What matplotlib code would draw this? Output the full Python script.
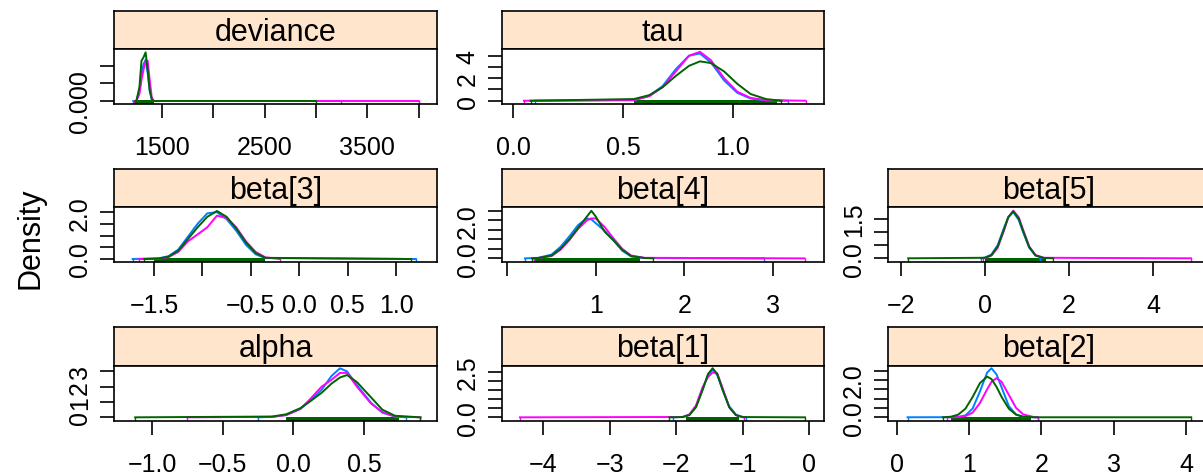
import numpy as np
import matplotlib
matplotlib.use('Agg')
import matplotlib.pyplot as plt

plt.rcParams['font.family'] = ['Liberation Sans', 'DejaVu Sans']

# chain colours (lattice superpose.line): chain 1, 2, 3
chain_colors = ['#0080ff', '#ff00ff', '#006400']
strip_color = '#ffe5cc'

# ---- density curves (peak region, shared x per panel) ----
dev_x = [1250, 1280, 1300, 1320, 1340, 1360, 1380, 1400, 1420]
dev_blue = [0, 0.003, 0.008, 0.0105, 0.0118, 0.008, 0.003, 0.0005, 0]
dev_pink = [0, 0.002, 0.006, 0.009, 0.0112, 0.0115, 0.006, 0.001, 0]
dev_green = [0, 0.004, 0.0115, 0.0125, 0.0139, 0.009, 0.003, 0.0005, 0]
dev_lo = [1220, 1230, 1240]
dev_hi = [3240, 4000, 3000]
dev_rug = [1240, 1420]

tau_x = [0.55, 0.62, 0.68, 0.74, 0.80, 0.85, 0.90, 0.96, 1.02, 1.08, 1.15]
tau_blue = [0.05, 0.45, 1.3, 2.8, 4.0, 4.2, 3.4, 1.8, 0.7, 0.2, 0.04]
tau_pink = [0.06, 0.4, 1.2, 2.6, 4.0, 4.35, 3.6, 2.0, 0.8, 0.25, 0.05]
tau_green = [0.15, 0.5, 1.2, 2.2, 3.1, 3.5, 3.35, 2.6, 1.5, 0.6, 0.15]
tau_lo = [0.10, 0.05, 0.08]
tau_hi = [1.25, 1.33, 1.22]
tau_rug = [0.55, 1.2]

b3_x = [-1.45, -1.35, -1.25, -1.15, -1.05, -0.95, -0.85, -0.75, -0.65, -0.55, -0.45, -0.35]
b3_blue = [0.03, 0.12, 0.4, 0.95, 1.5, 1.95, 2.0, 1.7, 1.2, 0.6, 0.2, 0.04]
b3_pink = [0.01, 0.08, 0.3, 0.75, 1.05, 1.35, 1.85, 1.75, 1.35, 0.75, 0.3, 0.07]
b3_green = [0.02, 0.1, 0.35, 0.85, 1.35, 1.8, 2.05, 1.8, 1.3, 0.7, 0.25, 0.05]
b3_lo = [-1.72, -1.65, -1.6]
b3_hi = [1.2, -0.2, 1.15]
b3_rug = [-1.5, -0.35]

b4_x = [0.35, 0.5, 0.6, 0.7, 0.8, 0.9, 0.95, 1.0, 1.1, 1.2, 1.3, 1.4, 1.55]
b4_blue = [0.03, 0.2, 0.6, 1.15, 1.75, 2.1, 2.05, 1.85, 1.45, 0.95, 0.4, 0.1, 0.02]
b4_pink = [0.02, 0.12, 0.45, 0.95, 1.55, 2.0, 2.1, 2.1, 1.65, 1.05, 0.5, 0.15, 0.03]
b4_green = [0.02, 0.15, 0.5, 1.0, 1.6, 2.2, 2.5, 2.2, 1.4, 0.95, 0.45, 0.12, 0.02]
b4_lo = [0.2, 0.3, 0.28]
b4_hi = [2.9, 3.36, 1.65]
b4_rug = [0.3, 1.5]

b5_x = [0.0, 0.15, 0.3, 0.45, 0.55, 0.67, 0.8, 0.9, 1.05, 1.2, 1.4]
b5_blue = [0.03, 0.14, 0.5, 1.15, 1.55, 1.75, 1.45, 1.0, 0.4, 0.1, 0.01]
b5_pink = [0.01, 0.1, 0.4, 1.05, 1.55, 1.8, 1.55, 1.1, 0.45, 0.12, 0.02]
b5_green = [0.02, 0.12, 0.45, 1.1, 1.55, 1.78, 1.5, 1.05, 0.42, 0.11, 0.01]
b5_lo = [-0.1, -0.05, -1.83]
b5_hi = [1.3, 4.9, 1.62]
b5_rug = [0.0, 1.45]

alpha_x = [-0.15, -0.05, 0.05, 0.12, 0.2, 0.27, 0.33, 0.38, 0.45, 0.55, 0.63, 0.72]
alpha_blue = [0.03, 0.15, 0.55, 1.1, 1.8, 2.7, 3.2, 3.0, 2.1, 0.95, 0.3, 0.05]
alpha_pink = [0.03, 0.15, 0.55, 1.2, 2.0, 2.45, 2.9, 2.9, 2.0, 0.9, 0.35, 0.05]
alpha_green = [0.05, 0.2, 0.6, 1.05, 1.6, 2.2, 2.6, 2.76, 2.3, 1.3, 0.5, 0.1]
alpha_lo = [-0.25, -0.75, -1.12]
alpha_hi = [0.8, 0.9, 0.9]
alpha_rug = [-0.05, 0.75]

b1_x = [-1.9, -1.8, -1.7, -1.6, -1.52, -1.45, -1.38, -1.3, -1.2, -1.1, -1.0]
b1_blue = [0.02, 0.15, 0.6, 1.55, 2.3, 2.6, 2.3, 1.5, 0.6, 0.15, 0.02]
b1_pink = [0.02, 0.15, 0.65, 1.65, 2.2, 2.45, 2.4, 1.6, 0.55, 0.12, 0.01]
b1_green = [0.015, 0.12, 0.55, 1.5, 2.36, 2.68, 2.36, 1.5, 0.55, 0.12, 0.015]
b1_lo = [-2.05, -4.35, -2.1]
b1_hi = [-0.95, -0.98, -0.06]
b1_rug = [-1.85, -1.05]

b2_x = [0.75, 0.85, 0.95, 1.05, 1.15, 1.25, 1.31, 1.38, 1.45, 1.55, 1.65, 1.75, 1.9]
b2_blue = [0.005, 0.02, 0.1, 0.47, 1.38, 2.4, 2.63, 2.3, 1.6, 0.6, 0.15, 0.02, 0.0]
b2_pink = [0.0, 0.01, 0.06, 0.25, 0.76, 1.5, 1.9, 2.1, 1.9, 1.2, 0.5, 0.15, 0.01]
b2_green = [0.03, 0.14, 0.46, 1.09, 1.83, 2.18, 2.05, 1.63, 1.09, 0.46, 0.14, 0.03, 0.0]
b2_lo = [0.15, 0.7, 0.64]
b2_hi = [1.95, 1.95, 4.07]
b2_rug = [0.75, 1.85]

# ---- ticks and labels (lattice drops overlapping labels) ----
dev_xt = [1500, 2000, 2500, 3000, 3500, 4000]
dev_xl = ['1500', '', '2500', '', '3500', '']
dev_yt = [0, 0.005, 0.010]
dev_yl = ['0.000', '', '']

tau_xt = [0.0, 0.5, 1.0]
tau_xl = ['0.0', '0.5', '1.0']
tau_yt = [0, 1, 2, 3, 4]
tau_yl = ['0', '', '2', '', '4']

b3_xt = [-1.5, -1.0, -0.5, 0.0, 0.5, 1.0]
b3_xl = ['\u22121.5', '', '\u22120.5', '0.0', '0.5', '1.0']
b3_yt = [0, 0.5, 1.0, 1.5, 2.0]
b3_yl = ['0.0', '', '', '', '2.0']

b4_xt = [0, 1, 2, 3]
b4_xl = ['', '1', '2', '3']
b4_yt = [0, 0.5, 1.0, 1.5, 2.0, 2.5]
b4_yl = ['0.0', '', '', '', '2.0', '']

b5_xt = [-2, 0, 2, 4]
b5_xl = ['\u22122', '0', '2', '4']
b5_yt = [0, 0.5, 1.0, 1.5]
b5_yl = ['0.0', '', '', '1.5']

alpha_xt = [-1.0, -0.5, 0.0, 0.5]
alpha_xl = ['\u22121.0', '\u22120.5', '0.0', '0.5']
alpha_yt = [0, 1, 2, 3]
alpha_yl = ['0', '1', '2', '3']

b1_xt = [-4, -3, -2, -1, 0]
b1_xl = ['\u22124', '\u22123', '\u22122', '\u22121', '0']
b1_yt = [0, 0.5, 1.0, 1.5, 2.0, 2.5]
b1_yl = ['0.0', '', '', '', '', '2.5']

b2_xt = [0, 1, 2, 3, 4]
b2_xl = ['0', '1', '2', '3', '4']
b2_yt = [0, 0.5, 1.0, 1.5, 2.0, 2.5]
b2_yl = ['0.0', '', '', '', '2.0', '']

# ---- layout (pixels) ----
W, H = 1203, 477
cols = [(114, 437), (502, 824), (888, 1210)]
rows = [(12, 50, 105), (170, 208, 263), (328, 367, 422)]  # strip top, panel top, panel bottom


def px_axes(fig, x0, x1, y0, y1):
    return fig.add_axes([x0 / W, 1 - y1 / H, (x1 - x0) / W, (y1 - y0) / H])


def draw_panel(fig, col, row, title, x, ys, lo, hi, rug, xt, xl, yt, yl, xlim, ylim):
    cx0, cx1 = cols[col]
    st, pt, pb = rows[row]

    # strip
    sax = px_axes(fig, cx0, cx1, st, pt)
    sax.set_facecolor(strip_color)
    sax.set_xticks([])
    sax.set_yticks([])
    for s in sax.spines.values():
        s.set_linewidth(1.2)
    sax.text(0.5, 0.45, title, ha='center', va='center', fontsize=22, transform=sax.transAxes)

    ax = px_axes(fig, cx0, cx1, pt, pb)
    for s in ax.spines.values():
        s.set_linewidth(1.2)

    # dense rug band, then chain-wise curves and outlying rug ticks
    ax.fill_between(rug, [0, 0], [0.07, 0.07], color=chain_colors[2],
                    transform=ax.get_xaxis_transform(), lw=0)
    for y, c, a, b in zip(ys, chain_colors, lo, hi):
        ax.plot([a] + list(x) + [b], [0] + list(y) + [0], color=c, lw=1.4)
        ax.vlines([a, b], 0, 0.07, color=c, lw=1.0, transform=ax.get_xaxis_transform())

    ax.set_xlim(xlim)
    ax.set_ylim(ylim)
    ax.set_xticks(xt)
    ax.set_xticklabels(xl)
    ax.set_yticks(yt)
    ax.set_yticklabels(yl, rotation=90, va='center')
    ax.tick_params(axis='both', direction='out', length=10, width=1.2, labelsize=18)
    ax.tick_params(axis='x', pad=12)
    ax.tick_params(axis='y', pad=6)
    return ax


def main():
    fig = plt.figure(figsize=(W / 100, H / 100), dpi=100)

    draw_panel(fig, 0, 0, 'deviance', dev_x, [dev_blue, dev_pink, dev_green], dev_lo, dev_hi,
               dev_rug, dev_xt, dev_xl, dev_yt, dev_yl, (1032, 4180), (-0.00086, 0.01486))
    draw_panel(fig, 1, 0, 'tau', tau_x, [tau_blue, tau_pink, tau_green], tau_lo, tau_hi,
               tau_rug, tau_xt, tau_xl, tau_yt, tau_yl, (-0.05, 1.414), (-0.29, 4.6))
    draw_panel(fig, 0, 1, 'beta[3]', b3_x, [b3_blue, b3_pink, b3_green], b3_lo, b3_hi,
               b3_rug, b3_xt, b3_xl, b3_yt, b3_yl, (-1.912, 1.42), (-0.128, 2.22))
    draw_panel(fig, 1, 1, 'beta[4]', b4_x, [b4_blue, b4_pink, b4_green], b4_lo, b4_hi,
               b4_rug, b4_xt, b4_xl, b4_yt, b4_yl, (-0.06, 3.58), (-0.19, 2.7))
    draw_panel(fig, 2, 1, 'beta[5]', b5_x, [b5_blue, b5_pink, b5_green], b5_lo, b5_hi,
               b5_rug, b5_xt, b5_xl, b5_yt, b5_yl, (-2.31, 5.35), (-0.14, 1.94))
    draw_panel(fig, 0, 2, 'alpha', alpha_x, [alpha_blue, alpha_pink, alpha_green], alpha_lo, alpha_hi,
               alpha_rug, alpha_xt, alpha_xl, alpha_yt, alpha_yl, (-1.27, 1.017), (-0.24, 3.35))
    draw_panel(fig, 1, 2, 'beta[1]', b1_x, [b1_blue, b1_pink, b1_green], b1_lo, b1_hi,
               b1_rug, b1_xt, b1_xl, b1_yt, b1_yl, (-4.62, 0.226), (-0.2, 2.8))
    draw_panel(fig, 2, 2, 'beta[2]', b2_x, [b2_blue, b2_pink, b2_green], b2_lo, b2_hi,
               b2_rug, b2_xt, b2_xl, b2_yt, b2_yl, (-0.12, 4.33), (-0.2, 2.75))

    fig.text(30 / W, 0.5, 'Density', rotation=90, ha='center', va='center', fontsize=22)
    fig.savefig('out.png', dpi=100)


if __name__ == '__main__':
    main()
